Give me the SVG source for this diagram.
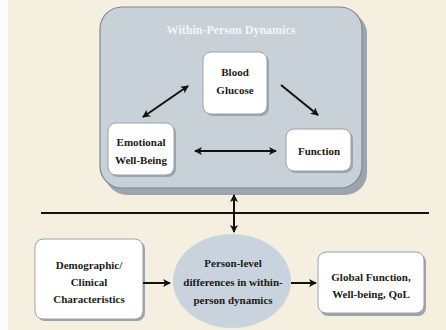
<svg xmlns="http://www.w3.org/2000/svg" width="446" height="330" viewBox="0 0 446 330">
<defs>
<marker id="ah" markerWidth="10" markerHeight="10" refX="7" refY="4" orient="auto-start-reverse" markerUnits="userSpaceOnUse">
<path d="M0,0 L8,4 L0,8 L2,4 Z" fill="#111"/>
</marker>
</defs>
<style>
.bg{fill:#f5efdf}
.box{fill:#ffffff;stroke:#9aa3ad;stroke-width:1}
.sh{fill:#9aa5b0}
.t{font-family:"Liberation Serif","Times New Roman",serif;font-weight:bold;font-size:11px;fill:#1a1a1a;text-anchor:middle}
.c{stroke:#111;stroke-width:2;fill:none}
</style>
<rect x="0" y="0" width="446" height="330" class="bg"/>
<rect x="0" y="0" width="8" height="330" fill="#fbfcfd"/>

<g id="within-person-dynamics">
<rect x="105" y="12" width="262" height="183" rx="22" class="sh"/>
<rect x="100" y="7" width="262" height="181" rx="22" fill="#c8d0d8" stroke="#7e8893" stroke-width="1.2"/>
<text x="231" y="34" class="t" style="fill:#f4f6f8;font-size:12px">Within-Person Dynamics</text>
</g>

<g id="blood-glucose">
<rect x="205" y="54" width="64" height="62" rx="8" class="sh"/>
<rect x="203" y="52" width="64" height="62" rx="8" class="box"/>
<text x="235" y="76" class="t">Blood</text>
<text x="235" y="94" class="t">Glucose</text>
</g>

<g id="emotional-well-being">
<rect x="110" y="125" width="66" height="52" rx="8" class="sh"/>
<rect x="108" y="123" width="66" height="52" rx="8" class="box"/>
<text x="141" y="146" class="t">Emotional</text>
<text x="141" y="164" class="t">Well-Being</text>
</g>

<g id="function">
<rect x="288" y="131" width="65" height="42" rx="8" class="sh"/>
<rect x="286" y="129" width="65" height="42" rx="8" class="box"/>
<text x="319" y="155" class="t">Function</text>
</g>

<g id="demographic">
<rect x="37" y="241" width="108" height="80" rx="8" class="sh"/>
<rect x="35" y="239" width="108" height="80" rx="8" class="box"/>
<text x="89" y="269" class="t">Demographic/</text>
<text x="89" y="286" class="t">Clinical</text>
<text x="89" y="303" class="t">Characteristics</text>
</g>

<g id="person-level">
<ellipse cx="232" cy="281" rx="59" ry="47" fill="#c8d3dd"/>
<text x="233" y="267" class="t">Person-level</text>
<text x="233" y="286" class="t">differences in within-</text>
<text x="233" y="304" class="t">person dynamics</text>
</g>

<g id="global-function">
<rect x="320" y="254" width="106" height="62" rx="8" class="sh"/>
<rect x="318" y="252" width="106" height="61" rx="8" class="box"/>
<text x="371" y="281" class="t">Global Function,</text>
<text x="371" y="298" class="t">Well-being, QoL</text>
</g>

<g id="connectors">
<line x1="41" y1="213" x2="429" y2="213" stroke="#111" stroke-width="2"/>
<line x1="143" y1="117" x2="188" y2="86" class="c" marker-start="url(#ah)" marker-end="url(#ah)"/>
<line x1="281" y1="85" x2="318" y2="115" class="c" marker-end="url(#ah)"/>
<line x1="195" y1="151" x2="276" y2="151" class="c" marker-start="url(#ah)" marker-end="url(#ah)"/>
<line x1="234" y1="195" x2="234" y2="232" class="c" marker-start="url(#ah)" marker-end="url(#ah)"/>
<line x1="143" y1="283" x2="170" y2="283" class="c" marker-end="url(#ah)"/>
<line x1="291" y1="283" x2="316" y2="283" class="c" marker-end="url(#ah)"/>
</g>
</svg>
